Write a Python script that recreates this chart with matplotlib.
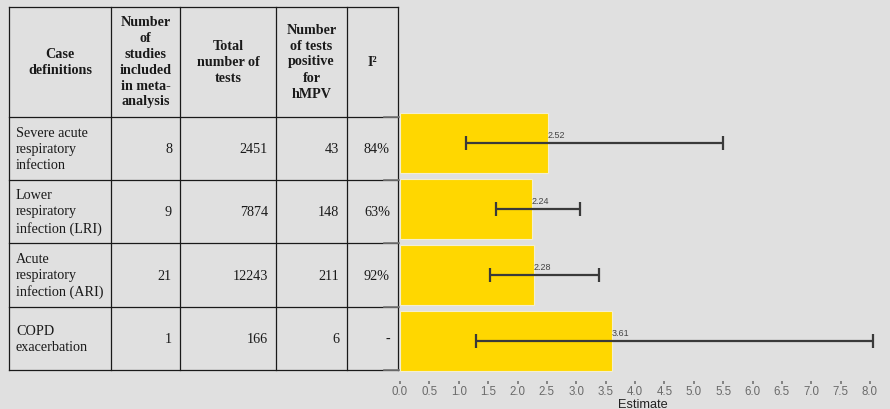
import matplotlib.pyplot as plt

# === data ===
case_defs = ["Severe acute\nrespiratory\ninfection",
             "Lower\nrespiratory\ninfection (LRI)",
             "Acute\nrespiratory\ninfection (ARI)",
             "COPD\nexacerbation"]
n_studies = [8, 9, 21, 1]
total_tests = [2451, 7874, 12243, 166]
positive_tests = [43, 148, 211, 6]
i_squared = ["84%", "63%", "92%", "-"]
headers = ["Case\ndefinitions",
           "Number\nof\nstudies\nincluded\nin meta-\nanalysis",
           "Total\nnumber of\ntests",
           "Number\nof tests\npositive\nfor\nhMPV",
           "I\u00b2"]

estimate = [2.52, 2.24, 2.28, 3.61]
ci_low = [1.13, 1.63, 1.53, 1.29]
ci_high = [5.50, 3.07, 3.39, 8.05]
xticks = [0.0, 0.5, 1.0, 1.5, 2.0, 2.5, 3.0, 3.5, 4.0, 4.5, 5.0, 5.5, 6.0, 6.5, 7.0, 7.5, 8.0]

# === style ===
bg = "#e0e0e0"
bar_color = "#ffd700"
W, H = 890, 409
col_x = [9, 111, 180, 276, 347, 398]
row_y = [7, 117, 180, 243, 307, 370]
serif = ["Liberation Serif", "DejaVu Serif"]
sans = ["Liberation Sans", "DejaVu Sans"]

fig = plt.figure(figsize=(W / 100, H / 100), dpi=100, facecolor=bg)

# --- table (pixel coordinates) ---
tab = fig.add_axes([0, 0, 1, 1])
tab.set_xlim(0, W)
tab.set_ylim(H, 0)
tab.axis("off")

lw = 0.9
for x in col_x:
    tab.plot([x, x], [row_y[0], row_y[-1]], color="#1a1a1a", lw=lw)
for y in row_y:
    tab.plot([col_x[0], col_x[-1]], [y, y], color="#1a1a1a", lw=lw)
# small grey ticks at the row lines on the right border
for y in row_y[1:]:
    tab.plot([384, 399], [y, y], color="#777777", lw=1.2)

for j, h in enumerate(headers):
    cx = (col_x[j] + col_x[j + 1]) / 2
    cy = (row_y[0] + row_y[1]) / 2
    tab.text(cx, cy, h, ha="center", va="center", fontsize=10.2,
             fontweight="bold", family=serif, color="#1a1a1a", linespacing=1.3)

for i in range(len(case_defs)):
    cy = (row_y[i + 1] + row_y[i + 2]) / 2 + 1
    tab.text(col_x[0] + 7, cy, case_defs[i], ha="left", va="center",
             fontsize=10.2, family=serif, color="#1a1a1a", linespacing=1.3)
    vals = [str(n_studies[i]), str(total_tests[i]), str(positive_tests[i]), i_squared[i]]
    for j, v in enumerate(vals):
        tab.text(col_x[j + 2] - 8, cy, v, ha="right", va="center",
                 fontsize=10.2, family=serif, color="#1a1a1a")

# --- bar chart ---
ax_left, ax_right = 400, 885
ax_top, ax_bot = 110, 372
ax = fig.add_axes([ax_left / W, 1 - ax_bot / H, (ax_right - ax_left) / W, (ax_bot - ax_top) / H])
ax.set_facecolor("none")
ypos = list(range(len(estimate)))
err = [[e - l for e, l in zip(estimate, ci_low)], [h - e for e, h in zip(estimate, ci_high)]]
ax.barh(ypos, estimate, height=0.91, color=bar_color, edgecolor="#f4efd0", linewidth=0.8)
ax.errorbar(estimate, ypos, xerr=err, fmt="none", ecolor="#3a3a3a", elinewidth=1.6,
            capsize=4.7, capthick=1.6)
for y, e in zip(ypos, estimate):
    ax.text(e, y - 0.04, f"{e:.2f}", ha="left", va="bottom", fontsize=6.5,
            family=sans, color="#444444")

ax.set_xlim(0, (ax_right - ax_left) / 58.75)
ax.set_ylim(3.47, -0.5)
ax.set_yticks([])
for s in ["top", "right", "left"]:
    ax.spines[s].set_visible(False)
ax.spines["bottom"].set_position(("outward", 6.5))
ax.spines["bottom"].set_visible(False)
ax.set_xticks(xticks)
ax.set_xticklabels([f"{t:.1f}" for t in xticks], family=sans, fontsize=8.3, color="#6a6a6a")
ax.tick_params(axis="x", length=2.2, width=1.1, color="#6a6a6a", pad=1.5)
ax.set_xlabel("Estimate", family=sans, fontsize=9.2, color="#222222", labelpad=0.3)

fig.savefig("out.png", dpi=100, facecolor=bg)
